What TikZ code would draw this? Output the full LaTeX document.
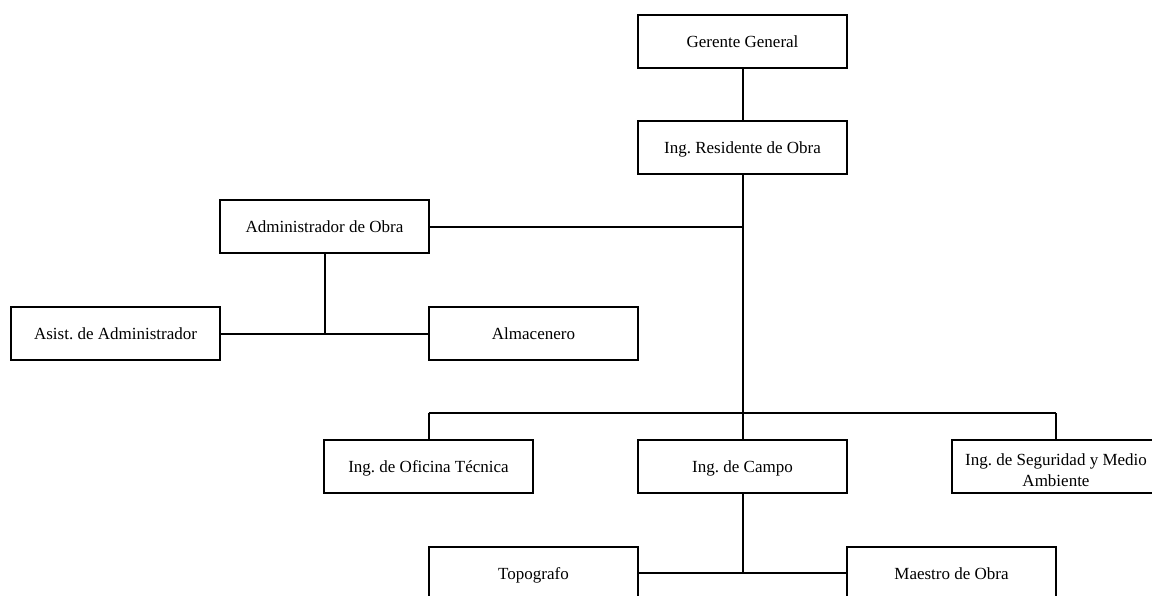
\documentclass[tikz,border=0pt]{standalone}
\usepackage{fontspec}
\setmainfont{Liberation Serif}
\begin{document}
\frenchspacing
\begin{tikzpicture}[x=1pt,y=-1pt]
	\tikzstyle{puesto}=[rectangle,draw=black,line width=2pt,minimum width=209pt,minimum height=53pt,align=center,font=\fontsize{17}{21}\selectfont]
	\tikzstyle{uno}=[text height=13pt,text depth=1pt]
	\tikzstyle{enlace}=[draw,line width=2pt]
	\useasboundingbox (0,0) rectangle (1152,595);
	\clip (0,0) rectangle (1152,595);
	\begin{scope}
		\node [puesto,uno] (gg) at (742.5,41) {Gerente General};
		\node [puesto,uno] (ir) at (742.5,147) {Ing. Residente de Obra};
		\node [puesto,uno] (ad) at (324.5,226.5) {Administrador de Obra};
		\node [puesto,uno] (aa) at (115.5,333.5) {Asist. de Administrador};
		\node [puesto,uno] (al) at (533.5,333.5) {Almacenero};
		\node [puesto,uno] (io) at (428.5,466.5) {Ing. de Oficina Técnica};
		\node [puesto,uno] (ic) at (742.5,466.5) {Ing. de Campo};
		\node [puesto,text height=43pt,text depth=4pt,inner ysep=0pt] (is) at (1056,466.5) {Ing. de Seguridad y Medio\\Ambiente};
		\node [puesto,uno] (to) at (533.5,573) {Topografo};
		\node [puesto,uno] (ma) at (951.5,573) {Maestro de Obra};
		\coordinate (j1) at (742.5,226.5);
		\coordinate (j3) at (324.5,333.5);
		\coordinate (b1) at (428.5,413);
		\coordinate (b2) at (1056,413);
		\coordinate (j4) at (742.5,573);
		\path[enlace] (gg) -- (ir);
		\path[enlace] (ir) -- (ic);
		\path[enlace] (ad) -- (j1);
		\path[enlace] (ad) -- (j3);
		\path[enlace] (aa) -- (al);
		\path[enlace] (b1) -- (b2);
		\path[enlace] (b1) -- (io);
		\path[enlace] (b2) -- (is);
		\path[enlace] (ic) -- (j4);
		\path[enlace] (to) -- (ma);
	\end{scope}
\end{tikzpicture}
\end{document}
